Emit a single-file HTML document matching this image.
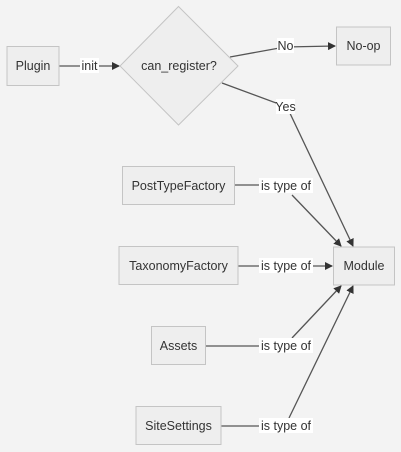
<!DOCTYPE html>
<html><head><meta charset="utf-8"><style>
html,body{margin:0;padding:0;background:#f3f3f3;}
svg{display:block;}
text{font-family:"Liberation Sans",sans-serif;font-size:12.5px;fill:#333;}
.n{fill:#eeeeee;stroke:#c4c4c4;stroke-width:1;}
.e{stroke:#555;stroke-width:1.3;fill:none;}
.lb{fill:#fff;}
</style></head><body>
<svg width="401" height="452" viewBox="0 0 401 452">
<defs><marker id="a" markerWidth="8" markerHeight="8" refX="7" refY="4" orient="auto" markerUnits="userSpaceOnUse"><path d="M0,0 L8,4 L0,8 z" fill="#333"/></marker></defs>
<!-- edges -->
<path class="e" d="M59,66 L119,66" marker-end="url(#a)"/>
<path class="e" d="M230,57 L285,47 L335,46" marker-end="url(#a)"/>
<path class="e" d="M222,83 L287,107 L353,246" marker-end="url(#a)"/>
<path class="e" d="M235,185 L259,185 M292,195 L341,246" marker-end="url(#a)"/>
<path class="e" d="M238,266 L332,266" marker-end="url(#a)"/>
<path class="e" d="M206,346 L259,346 M292,338 L341,286" marker-end="url(#a)"/>
<path class="e" d="M221,426 L259,426 M289,418 L353,286" marker-end="url(#a)"/>
<!-- nodes -->
<rect class="n" x="7" y="46.5" width="52" height="39"/>
<text x="33" y="70" text-anchor="middle">Plugin</text>
<polygon class="n" points="178.5,6.5 238,66 178.5,125 120,66"/>
<text x="179" y="70" text-anchor="middle">can_register?</text>
<rect class="n" x="336.5" y="27" width="54" height="38"/>
<text x="363.5" y="50" text-anchor="middle">No-op</text>
<rect class="n" x="122.5" y="166.5" width="112" height="38"/>
<text x="178.5" y="190" text-anchor="middle">PostTypeFactory</text>
<rect class="n" x="119" y="246.5" width="119" height="38"/>
<text x="178.5" y="270" text-anchor="middle">TaxonomyFactory</text>
<rect class="n" x="333.5" y="247" width="61" height="38"/>
<text x="364" y="270" text-anchor="middle">Module</text>
<rect class="n" x="151.5" y="326.5" width="54" height="38"/>
<text x="178.5" y="350" text-anchor="middle">Assets</text>
<rect class="n" x="136" y="406.5" width="85" height="38"/>
<text x="178.5" y="430" text-anchor="middle">SiteSettings</text>
<!-- labels -->
<rect class="lb" x="80" y="58" width="19" height="15"/><text x="89.5" y="70" text-anchor="middle">init</text>
<rect class="lb" x="277" y="38" width="17" height="15"/><text x="285.5" y="50" text-anchor="middle">No</text>
<rect class="lb" x="276" y="99" width="19" height="15"/><text x="285.5" y="111" text-anchor="middle">Yes</text>
<rect class="lb" x="259" y="178" width="54" height="15"/><text x="286" y="190" text-anchor="middle">is type of</text>
<rect class="lb" x="259" y="258" width="54" height="15"/><text x="286" y="270" text-anchor="middle">is type of</text>
<rect class="lb" x="259" y="338" width="54" height="15"/><text x="286" y="350" text-anchor="middle">is type of</text>
<rect class="lb" x="259" y="418" width="54" height="15"/><text x="286" y="430" text-anchor="middle">is type of</text>
</svg>
</body></html>
